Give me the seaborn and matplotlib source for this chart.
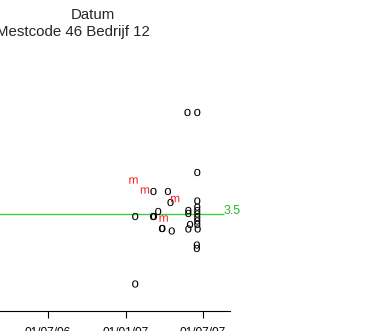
import matplotlib
matplotlib.use("Agg")
import matplotlib.pyplot as plt
import pandas as pd
import seaborn as sns

# Individual measurements (plotted as "o")
o_dates = [
    "2007-05-26", "2007-06-18", "2007-06-18", "2007-03-07", "2007-04-10",
    "2007-04-16", "2007-03-18", "2007-01-23", "2007-03-06", "2007-03-08",
    "2007-03-27", "2007-03-28", "2007-04-19", "2007-05-28", "2007-05-28",
    "2007-06-01", "2007-05-28", "2007-06-18", "2007-06-18", "2007-06-18",
    "2007-06-18", "2007-06-18", "2007-06-18", "2007-06-18", "2007-06-19",
    "2007-06-17", "2007-06-17", "2007-01-23",
]
o_values = [
    5.52, 5.52, 4.32, 3.94, 3.94,
    3.72, 3.54, 3.44, 3.44, 3.44,
    3.20, 3.20, 3.15, 3.56, 3.50,
    3.28, 3.19, 3.75, 3.63, 3.56,
    3.49, 3.42, 3.35, 3.28, 3.19,
    2.87, 2.80, 2.09,
]

# Monthly values (plotted as red "m")
m_dates = ["2007-01-19", "2007-02-15", "2007-04-27", "2007-03-31"]
m_values = [4.16, 3.96, 3.79, 3.40]

norm_value = 3.5
tick_dates = ["2006-07-01", "2007-01-01", "2007-07-01"]
tick_labels = ["01/07/06", "01/01/07", "01/07/07"]
title_top = "Datum"
title_sub = "Mestcode 46 Bedrijf 12"

sns.set_style("ticks")
plt.rcParams["font.family"] = ["Liberation Sans", "DejaVu Sans"]
plt.rcParams["mathtext.fontset"] = "custom"
plt.rcParams["mathtext.rm"] = "Liberation Sans"

W, H = 388, 331
fig = plt.figure(figsize=(W / 100, H / 100), dpi=100)
ax = fig.add_axes([-20 / W, 20 / H, 250 / W, 251 / H])

o_df = pd.DataFrame({"Datum": pd.to_datetime(o_dates), "Waarde": o_values})
m_df = pd.DataFrame({"Datum": pd.to_datetime(m_dates), "Waarde": m_values})

x_start = pd.Timestamp("2006-01-23")
x_end = pd.Timestamp("2007-09-03")
line_end = pd.Timestamp("2007-08-20")

# reference level
ax.hlines(norm_value, x_start, line_end, color="#3fd03f", lw=1.0, zorder=1)
ax.text(line_end, norm_value, f"{norm_value:g}", color="#22bb22",
        ha="left", va="baseline", fontsize=9)

sns.scatterplot(data=o_df, x="Datum", y="Waarde", marker=r"$\mathrm{o}$",
                color="black", s=27, linewidth=0, edgecolor="none",
                ax=ax, zorder=3)
sns.scatterplot(data=m_df, x="Datum", y="Waarde", marker=r"$\mathrm{m}$",
                color="#ff1a1a", s=36, linewidth=0, edgecolor="none",
                ax=ax, zorder=3)

ax.set_xlim(x_start, x_end)
ax.set_ylim(1.55, 6.57)
ax.set_xticks(pd.to_datetime(tick_dates))
ax.set_xticklabels(tick_labels)
ax.set_yticks([])
ax.set_xlabel("")
ax.set_ylabel("")
for side in ("left", "top", "right"):
    ax.spines[side].set_visible(False)
ax.spines["bottom"].set_color("black")
ax.spines["bottom"].set_linewidth(0.8)
ax.tick_params(axis="x", length=5, width=0.8, pad=6.5, labelsize=8.6,
               colors="black")
ax.patch.set_alpha(0)

fig.text(93 / W, 1 - 19.3 / H, title_top, ha="center", va="baseline",
         fontsize=10.8)
fig.text(150 / W, 1 - 36 / H, title_sub, ha="right", va="baseline",
         fontsize=10.8)

fig.savefig("out.png", dpi=100)
